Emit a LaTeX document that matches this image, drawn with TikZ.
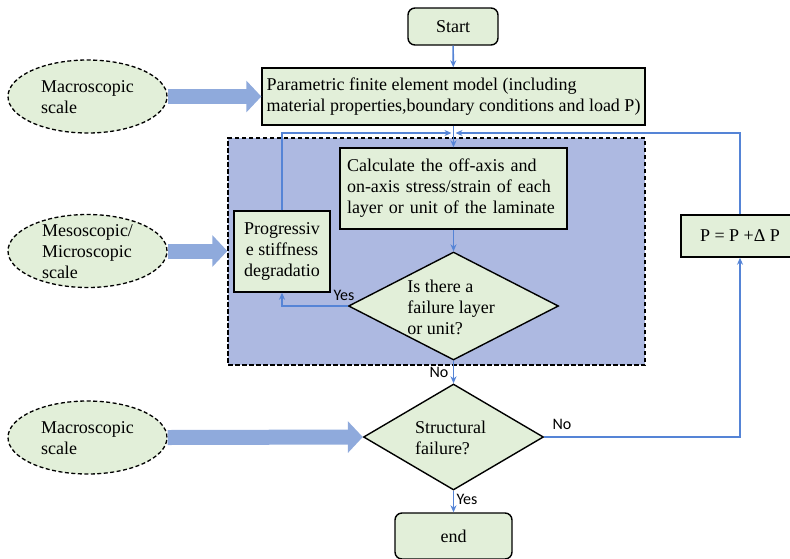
\documentclass[tikz,border=0pt]{standalone}
\usepackage{fontspec}
\setmainfont{Liberation Serif}
\newfontfamily\lblfont{Carlito}
\usetikzlibrary{shapes.geometric,arrows.meta,calc}
\definecolor{boxgreen}{HTML}{E2EFD9}
\definecolor{regionblue}{HTML}{ADB9E1}
\definecolor{fatblue}{HTML}{8FAADC}
\definecolor{lineblue}{HTML}{5584D6}
\begin{document}
\begin{tikzpicture}[x=1pt,y=-1pt,
  font=\fontsize{18}{21}\selectfont,
  box/.style={draw=black, line width=1.4pt, fill=boxgreen, inner sep=0pt},
  term/.style={box, rounded corners=7pt},
  dia/.style={diamond, draw=black, line width=1.4pt, fill=boxgreen, inner sep=0pt},
  scaleell/.style={ellipse, draw=black, line width=1.3pt, dash pattern=on 4pt off 2.5pt, fill=boxgreen, minimum width=159pt, minimum height=73pt, inner sep=0pt},
  region/.style={draw=black, line width=1.4pt, dash pattern=on 4.5pt off 2.5pt, fill=regionblue, inner sep=0pt},
  conn/.style={draw=lineblue, line width=1.6pt, -{Stealth[length=7pt,width=6pt]}},
  fat/.style={draw=fatblue, line width=15pt, -{Triangle[length=15pt,width=31pt]}},
  lbl/.style={font=\lblfont\fontsize{16}{18}\selectfont, inner sep=0pt},
  txt/.style={align=left, inner sep=0pt}]
\useasboundingbox (0,0) rectangle (790,558);

% mesoscopic region
\node[region, minimum width=417pt, minimum height=227pt] (meso) at (436.5,251.5) {};

% scale ellipses
\node[scaleell] (e1) at (87.5,96.5) {};
\node[txt] (e1t) at (87.5,97) {Macroscopic\\scale};
\node[scaleell] (e2) at (87.5,251) {};
\node[txt] (e2t) at (87.5,251.5) {Mesoscopic/\\Microscopic\\scale};
\node[scaleell] (e3) at (87.5,437.5) {};
\node[txt] (e3t) at (87.5,438) {Macroscopic\\scale};

% flow nodes
\node[term, minimum width=90pt, minimum height=37pt] (start) at (453,26.5) {Start};
\node[box, minimum width=383pt, minimum height=57pt, align=left] (param) at (453.5,96.5)
  {Parametric finite element model (including\\material properties,boundary conditions and load P)};
\node[box, minimum width=227pt, minimum height=81pt, text width=213pt, align=left] (calc) at (453.5,188.5)
  {Calculate the off-axis and\\on-axis stress/strain of each\\layer or unit of the laminate};
\node[box, minimum width=96pt, minimum height=81pt, align=center] (prog) at (282,251.5)
  {Progressiv\\e stiffness\\degradatio};
\node[dia, minimum width=210pt, minimum height=108pt] (d1) at (453.5,306) {};
\node[txt] (d1t) at (451,307) {Is there a\\failure layer\\or unit?};
\node[dia, minimum width=180pt, minimum height=106pt] (d2) at (453.5,437) {};
\node[txt] (d2t) at (450.5,437.5) {Structural\\failure?};
\node[term, minimum width=117pt, minimum height=46pt] (end) at (453.5,536) {end};
\node[box, minimum width=118pt, minimum height=42pt] (pbox) at (740,236) {P = P +Δ P};

% fat arrows
\draw[fat] (e1.east) -- (param.west);
\draw[fat] (e2.east) -- (e2.east -| meso.west);
\draw[fat] (e3.east) -- (d2.west);

% connectors
\coordinate (j) at (453.5,133);
\draw[conn] (start) -- (param);
\draw[conn] (param.south) -- (calc.north);
\draw[conn] (prog.north) |- ([xshift=-2pt]j);
\draw[conn] (pbox.north) |- ([xshift=2pt]j);
\draw[conn] (calc.south) -- (d1.north);
\draw[conn] (d1.west) -| (prog.south);
\draw[conn] (d1.south) -- (d2.north);
\draw[conn] (d2.south) -- (end.north);
\draw[conn] (d2.east) -| (pbox.south);

% labels
\node[lbl] (yes1) at (344,295) {Yes};
\node[lbl] (no1) at (439,372) {No};
\node[lbl] (yes2) at (467,499) {Yes};
\node[lbl] (no2) at (562,424) {No};
\end{tikzpicture}
\end{document}
